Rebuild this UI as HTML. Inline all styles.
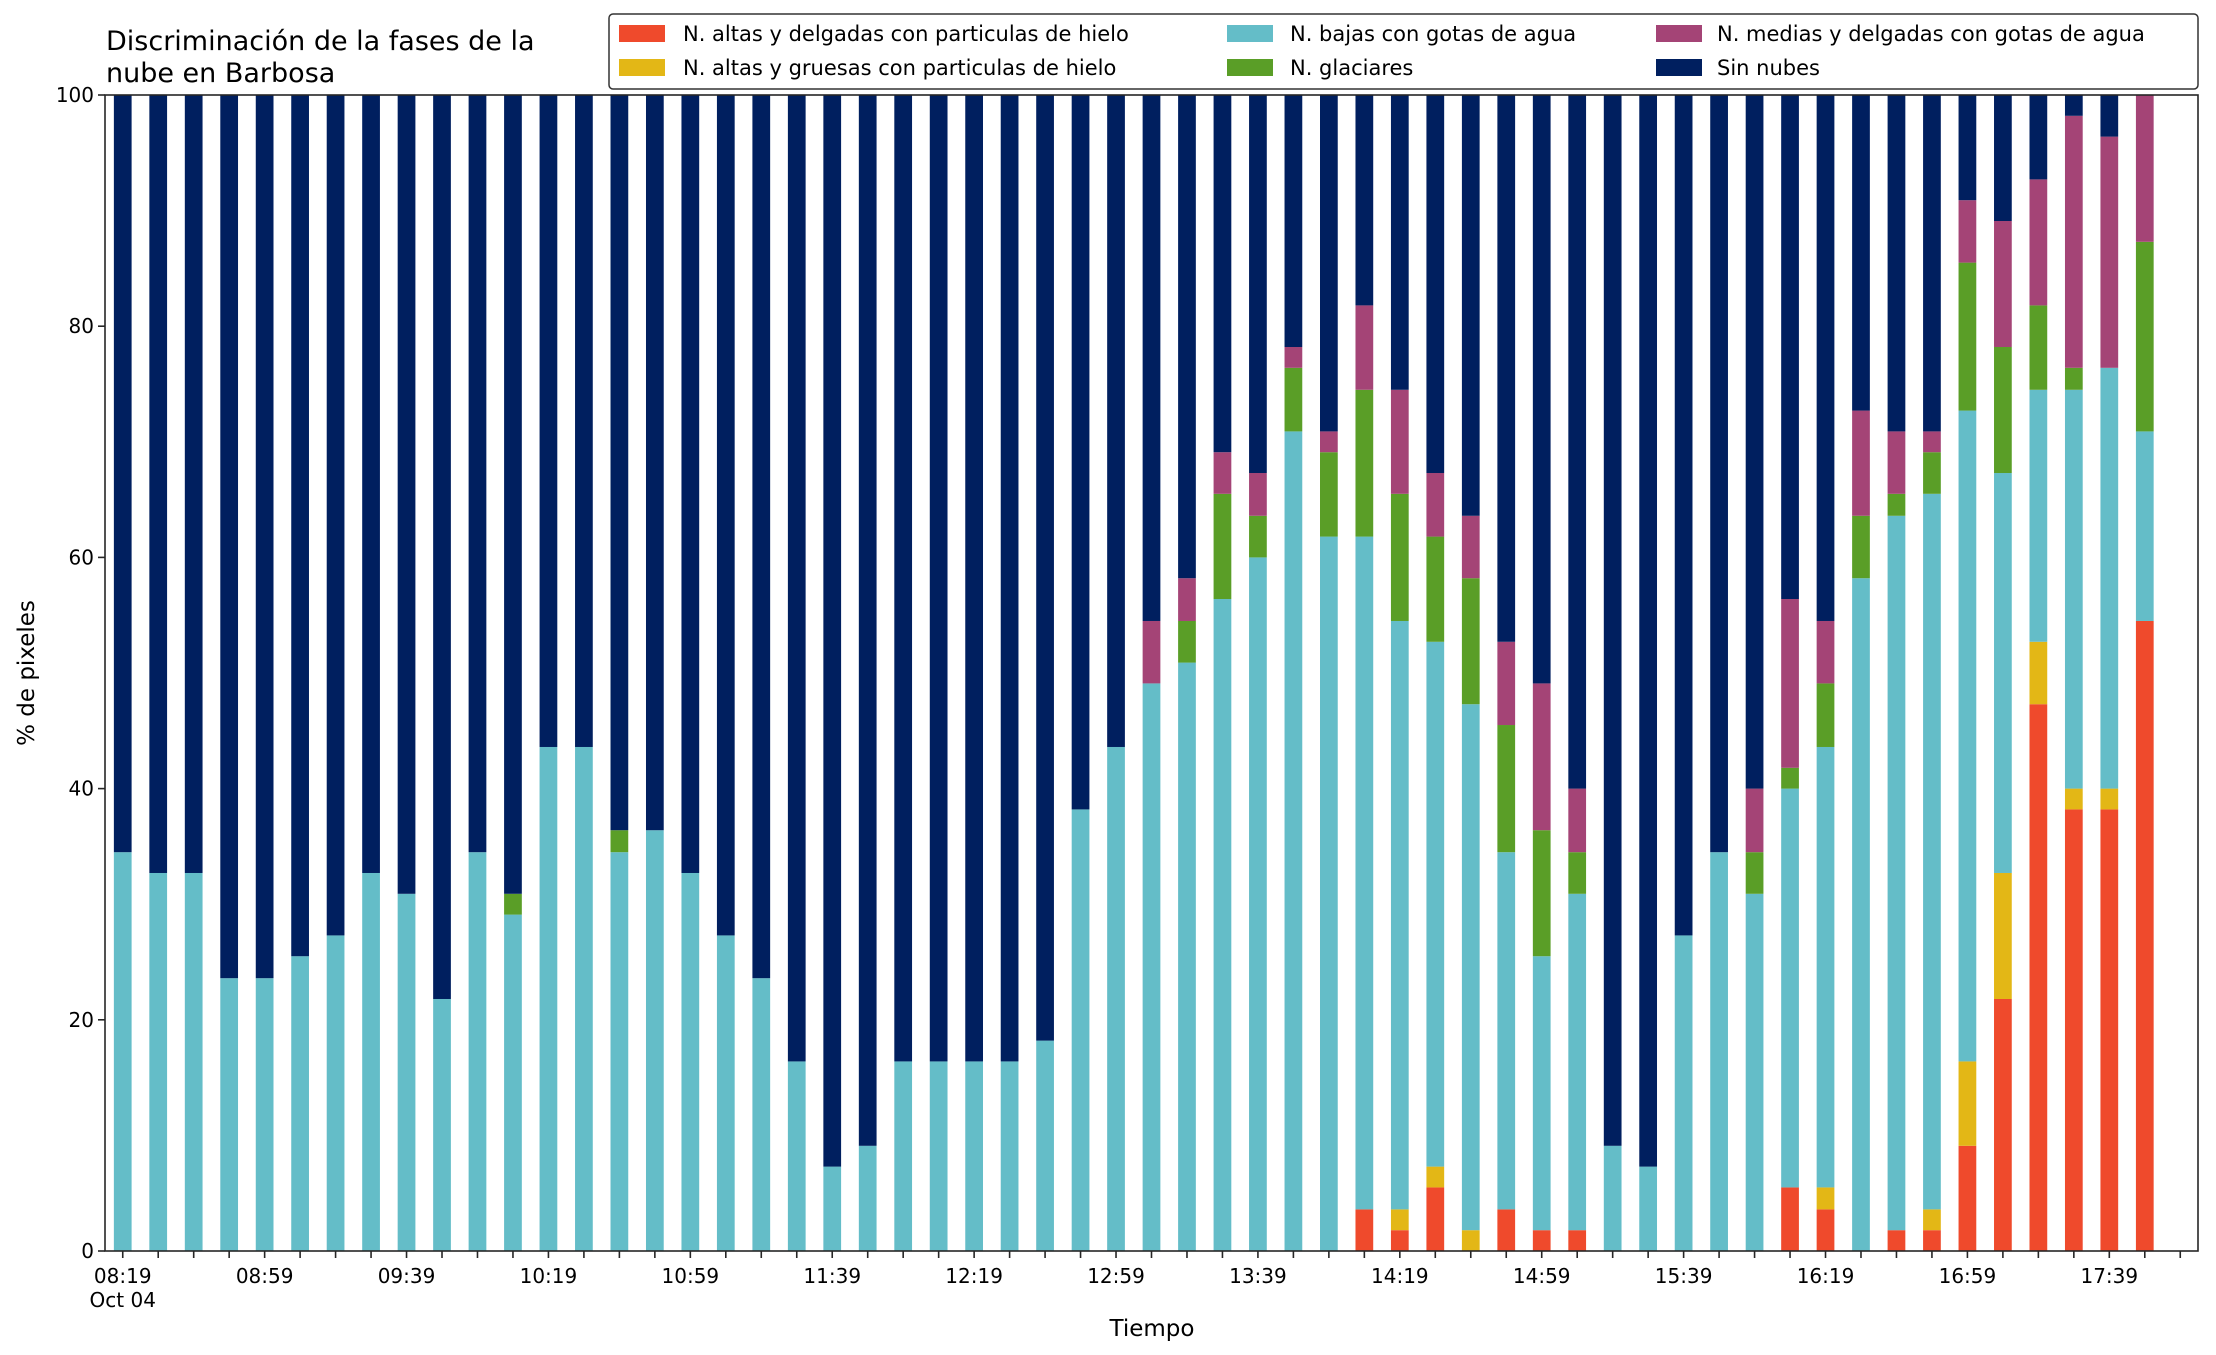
<!DOCTYPE html>
<html><head><meta charset="utf-8"><style>
html,body{margin:0;padding:0;background:#fff;}
svg{display:block;font-family:"DejaVu Sans","Liberation Sans",sans-serif;}
</style></head><body>
<svg id="chart" width="2216" height="1355" viewBox="0 0 2216 1355" xmlns="http://www.w3.org/2000/svg">
<rect width="2216" height="1355" fill="#fff"/>
<text x="106" y="50" font-size="27" fill="#000">Discriminación de la fases de la</text>
<text x="106" y="82" font-size="27" fill="#000">nube en Barbosa</text>
<g id="bars"></g>
<g id="axes"></g>
<text x="1152" y="1336" font-size="23" text-anchor="middle">Tiempo</text>
<text transform="translate(34,673) rotate(-90)" font-size="23" text-anchor="middle">% de pixeles</text>
<g>
<rect x="609" y="14" width="1589" height="75" rx="4" fill="#fff" stroke="#333" stroke-width="1.5"/>
<g><rect x="619" y="25" width="46" height="17" fill="#ef4a2c"/><text x="683" y="41" font-size="21">N. altas y delgadas con particulas de hielo</text></g>
<g><rect x="619" y="59" width="46" height="17" fill="#e3b716"/><text x="683" y="75" font-size="21">N. altas y gruesas con particulas de hielo</text></g>
<g><rect x="1227" y="25" width="46" height="17" fill="#64bdc8"/><text x="1290" y="41" font-size="21">N. bajas con gotas de agua</text></g>
<g><rect x="1227" y="59" width="46" height="17" fill="#5a9e27"/><text x="1290" y="75" font-size="21">N. glaciares</text></g>
<g><rect x="1656" y="25" width="46" height="17" fill="#a44476"/><text x="1717" y="41" font-size="21">N. medias y delgadas con gotas de agua</text></g>
<g><rect x="1656" y="59" width="46" height="17" fill="#001f5f"/><text x="1717" y="75" font-size="21">Sin nubes</text></g>
</g>
</svg>
<script>
const categories = ["08:19","08:29","08:39","08:49","08:59","09:09","09:19","09:29","09:39","09:49","09:59","10:09","10:19","10:29","10:39","10:49","10:59","11:09","11:19","11:29","11:39","11:49","11:59","12:09","12:19","12:29","12:39","12:49","12:59","13:09","13:19","13:29","13:39","13:49","13:59","14:09","14:19","14:29","14:39","14:49","14:59","15:09","15:19","15:29","15:39","15:49","15:59","16:09","16:19","16:29","16:39","16:49","16:59","17:09","17:19","17:29","17:39","17:49","17:59"];
const altasDelgadas = [0,0,0,0,0,0,0,0,0,0,0,0,0,0,0,0,0,0,0,0,0,0,0,0,0,0,0,0,0,0,0,0,0,0,0,3.6,1.8,5.5,0,3.6,1.8,1.8,0,0,0,0,0,5.5,3.6,0,1.8,1.8,9.1,21.8,47.3,38.2,38.2,54.5,0];
const altasGruesas = [0,0,0,0,0,0,0,0,0,0,0,0,0,0,0,0,0,0,0,0,0,0,0,0,0,0,0,0,0,0,0,0,0,0,0,0,1.8,1.8,1.8,0,0,0,0,0,0,0,0,0,1.9,0,0,1.8,7.3,10.9,5.4,1.8,1.8,0,0];
const bajas = [34.5,32.7,32.7,23.6,23.6,25.5,27.3,32.7,30.9,21.8,34.5,29.1,43.6,43.6,34.5,36.4,32.7,27.3,23.6,16.4,7.3,9.1,16.4,16.4,16.4,16.4,18.2,38.2,43.6,49.1,50.9,56.4,60,70.9,61.8,58.2,50.9,45.4,45.5,30.9,23.7,29.1,9.1,7.3,27.3,34.5,30.9,34.5,38.1,58.2,61.8,61.9,56.3,34.6,21.8,34.5,36.4,16.4,0];
const glaciares = [0,0,0,0,0,0,0,0,0,0,0,1.8,0,0,1.9,0,0,0,0,0,0,0,0,0,0,0,0,0,0,0,3.6,9.1,3.6,5.5,7.3,12.7,11,9.1,10.9,11,10.9,3.6,0,0,0,0,3.6,1.8,5.5,5.4,1.9,3.6,12.8,10.9,7.3,1.9,0,16.4,0];
const medias = [0,0,0,0,0,0,0,0,0,0,0,0,0,0,0,0,0,0,0,0,0,0,0,0,0,0,0,0,0,5.4,3.7,3.6,3.7,1.8,1.8,7.3,9,5.5,5.4,7.2,12.7,5.5,0,0,0,0,5.5,14.6,5.4,9.1,5.4,1.8,5.4,10.9,10.9,21.8,20,12.7,0];
const sinNubes = [65.5,67.3,67.3,76.4,76.4,74.5,72.7,67.3,69.1,78.2,65.5,69.1,56.4,56.4,63.6,63.6,67.3,72.7,76.4,83.6,92.7,90.9,83.6,83.6,83.6,83.6,81.8,61.8,56.4,45.5,41.8,30.9,32.7,21.8,29.1,18.2,25.5,32.7,36.4,47.3,50.9,60,90.9,92.7,72.7,65.5,60,43.6,45.5,27.3,29.1,29.1,9.1,10.9,7.3,1.8,3.6,0,0];
const yTicks = [0,20,40,60,80,100];
const xTickLabels = ["08:19","08:59","09:39","10:19","10:59","11:39","12:19","12:59","13:39","14:19","14:59","15:39","16:19","16:59","17:39"];

const NS = "http://www.w3.org/2000/svg";
const L = 105, R = 2198, T = 95, B = 1251;
const n = categories.length;
const step = (R - L) / n;
function xScale(i){ return L + step * (i + 0.5); }
function yScale(v){ return B - (B - T) * v / 100; }
const barW = step * 0.5;
function mk(tag, attrs, parent){ const e = document.createElementNS(NS, tag); for (const k in attrs) e.setAttribute(k, attrs[k]); parent.appendChild(e); return e; }

const series = [
  {name:"altas-delgadas", vals:altasDelgadas, color:"#ef4a2c"},
  {name:"altas-gruesas", vals:altasGruesas, color:"#e3b716"},
  {name:"bajas", vals:bajas, color:"#64bdc8"},
  {name:"glaciares", vals:glaciares, color:"#5a9e27"},
  {name:"medias", vals:medias, color:"#a44476"},
  {name:"sin-nubes", vals:sinNubes, color:"#001f5f"}
];
const barsG = document.getElementById("bars");
for (let i = 0; i < n; i++) {
  let base = 0;
  for (const s of series) {
    const v = s.vals[i];
    if (v > 0) {
      const r = mk("rect", {x: xScale(i) - barW/2, y: yScale(base + v), width: barW, height: yScale(base) - yScale(base + v), fill: s.color}, barsG);
      
      
    }
    base += v;
  }
}
const ax = document.getElementById("axes");
const frame = mk("rect", {x:L, y:T, width:R-L, height:B-T, fill:"none", stroke:"#262626", "stroke-width":"1.6"}, ax);


for (const t of yTicks) {
  const y = yScale(t);
  const tk = mk("line", {x1:L-7, x2:L, y1:y, y2:y, stroke:"#262626", "stroke-width":"1.6"}, ax);
  
  
  const lb = mk("text", {x:L-11, y:y+7, "font-size":"20", "text-anchor":"end"}, ax);
  lb.textContent = t;
  
  
}
for (let i = 0; i < n; i++) {
  const x = xScale(i);
  const tk = mk("line", {x1:x, x2:x, y1:B, y2:B+7, stroke:"#262626", "stroke-width":"1.6"}, ax);
  
  
}
xTickLabels.forEach(function(lab){
  const i = categories.indexOf(lab);
  const tx = mk("text", {x:xScale(i), y:1283, "font-size":"20", "text-anchor":"middle"}, ax);
  tx.textContent = lab;
  
  
});
const od = mk("text", {x:xScale(0), y:1307, "font-size":"20", "text-anchor":"middle"}, ax);
od.textContent = "Oct 04";


</script>
</body></html>
